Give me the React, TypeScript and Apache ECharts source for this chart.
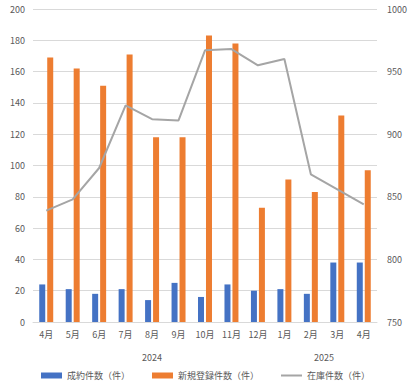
import React, { useEffect, useRef } from "react";
import * as echarts from "echarts";

const months = ["4月", "5月", "6月", "7月", "8月", "9月", "10月", "11月", "12月", "1月", "2月", "3月", "4月"];
const contracts = [24, 21, 18, 21, 14, 25, 16, 24, 20, 21, 18, 38, 38];
const newListings = [169, 162, 151, 171, 118, 118, 183, 178, 73, 91, 83, 132, 97];
const inventory = [839, 848, 873, 923, 912, 911, 967, 968, 955, 960, 868, 856, 844];
const yearLabels: { pos: number; label: string }[] = [
  { pos: 4, label: "2024" },
  { pos: 10.5, label: "2025" },
];
const leftTicks = { min: 0, max: 200, interval: 20 };
const rightTicks = { min: 750, max: 1000, interval: 50 };

const FONT = "'Noto Sans CJK JP', 'Noto Sans', sans-serif";
const TXT = "#595959";
const LINE_ICON =
  "path://M0,0 L21,0 L21,0.01 L0,0.01 Z M0,2 L21,2 L21,4 L0,4 Z M0,5.99 L21,5.99 L21,6 L0,6 Z";

export default function App() {
  const ref = useRef<HTMLDivElement>(null);
  useEffect(() => {
    if (!ref.current) return;
    const chart = echarts.init(ref.current, undefined, { renderer: "svg" });
    chart.setOption({
      animation: false,
      textStyle: { fontFamily: FONT, color: TXT },
      grid: { left: 33, right: 34, top: 9, bottom: 65 },
      legend: {
        bottom: 2,
        left: "center",
        itemWidth: 21,
        itemHeight: 6,
        itemGap: 22,
        textStyle: { fontFamily: FONT, color: TXT, fontSize: 9 },
        data: [
          { name: "成約件数（件）", icon: "rect" },
          { name: "新規登録件数（件）", icon: "rect" },
          { name: "在庫件数（件）", icon: LINE_ICON },
        ],
      },
      xAxis: [
        {
          type: "category",
          data: months,
          axisLine: { lineStyle: { color: "#d9d9d9" } },
          axisTick: { show: false },
          axisLabel: { color: TXT, fontSize: 9, fontFamily: FONT, margin: 8 },
        },
        {
          type: "value",
          position: "bottom",
          min: -0.5,
          max: months.length - 0.5,
          interval: 0.5,
          axisLine: { show: false },
          axisTick: { show: false },
          splitLine: { show: false },
          axisLabel: {
            color: TXT,
            fontSize: 9,
            fontFamily: FONT,
            margin: 31,
            showMinLabel: true,
            showMaxLabel: true,
            formatter: (v: number) => {
              const f = yearLabels.find((y) => Math.abs(y.pos - v) < 1e-6);
              return f ? f.label : "";
            },
          },
        },
      ],
      yAxis: [
        {
          type: "value",
          ...leftTicks,
          axisLine: { show: false },
          axisTick: { show: false },
          splitLine: { lineStyle: { color: "#d9d9d9" } },
          axisLabel: { color: TXT, fontSize: 9, fontFamily: FONT, margin: 8 },
        },
        {
          type: "value",
          ...rightTicks,
          position: "right",
          axisLine: { show: false },
          axisTick: { show: false },
          splitLine: { show: false },
          axisLabel: {
            color: TXT,
            fontSize: 9,
            fontFamily: FONT,
            margin: 10,
            formatter: (v: number) => String(v),
          },
        },
      ],
      series: [
        {
          name: "成約件数（件）",
          type: "bar",
          data: contracts,
          barWidth: 6,
          barGap: "33%",
          itemStyle: { color: "#4472c4" },
        },
        {
          name: "新規登録件数（件）",
          type: "bar",
          data: newListings,
          barWidth: 6,
          itemStyle: { color: "#ed7d31" },
        },
        {
          name: "在庫件数（件）",
          type: "line",
          yAxisIndex: 1,
          data: inventory,
          symbol: "none",
          lineStyle: { color: "#a5a5a5", width: 2 },
          itemStyle: { color: "#a5a5a5" },
          z: 5,
        },
      ],
    });
    return () => chart.dispose();
  }, []);
  return (
    <div
      ref={ref}
      style={{ position: "fixed", left: 0, top: 0, width: 411, height: 387, background: "#fff" }}
    />
  );
}
